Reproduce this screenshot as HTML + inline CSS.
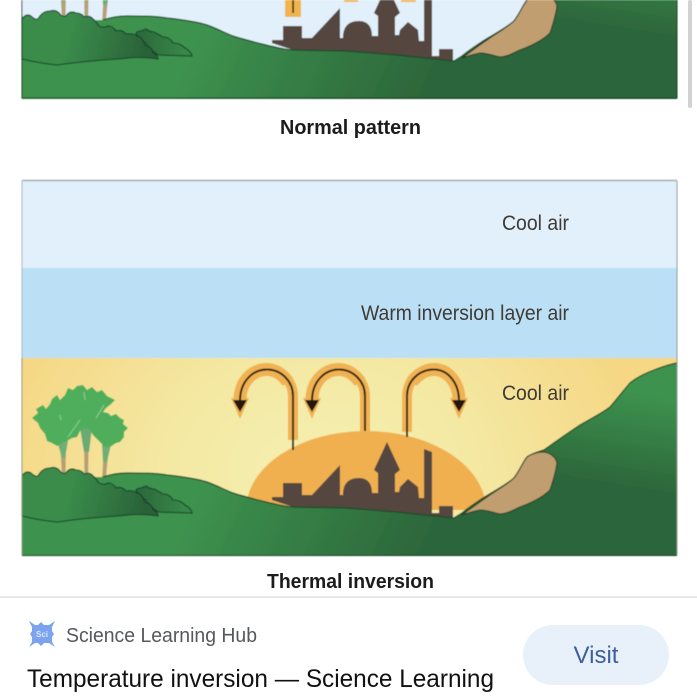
<!DOCTYPE html>
<html>
<head>
<meta charset="utf-8">
<style>
html,body{margin:0;padding:0;background:#fff;width:697px;height:698px;overflow:hidden}
svg{display:block;position:absolute;left:0;top:0}
</style>
</head>
<body>
<svg width="697" height="698" viewBox="0 0 697 698" xmlns="http://www.w3.org/2000/svg">
<defs>
  <filter id="b" x="-5%" y="-5%" width="110%" height="110%"><feGaussianBlur stdDeviation="0.55"/></filter>
  <filter id="bt" x="-5%" y="-5%" width="110%" height="110%"><feGaussianBlur stdDeviation="0.3"/></filter>
  <radialGradient id="sky" gradientUnits="userSpaceOnUse" cx="320" cy="470" r="330" gradientTransform="translate(320 470) scale(1 .75) translate(-320 -470)">
    <stop offset="0" stop-color="#f4efb0"/><stop offset=".45" stop-color="#f4e9a4"/><stop offset="1" stop-color="#f5d784"/>
  </radialGradient>
  <linearGradient id="g1" gradientUnits="userSpaceOnUse" x1="210" y1="470" x2="420" y2="570">
    <stop offset="0" stop-color="#3d924e"/><stop offset="1" stop-color="#2c653a"/>
  </linearGradient>
  <linearGradient id="g2" gradientUnits="userSpaceOnUse" x1="650" y1="395" x2="635" y2="490">
    <stop offset="0" stop-color="#3d924e"/><stop offset="1" stop-color="#3d924e" stop-opacity="0"/>
  </linearGradient>
  <linearGradient id="g3" gradientUnits="userSpaceOnUse" x1="70" y1="490" x2="145" y2="510">
    <stop offset="0" stop-color="#3a8c4b"/><stop offset="1" stop-color="#2a6238"/>
  </linearGradient>
  <linearGradient id="g4" gradientUnits="userSpaceOnUse" x1="140" y1="500" x2="190" y2="505">
    <stop offset="0" stop-color="#2c6a3b"/><stop offset="1" stop-color="#398a4a"/>
  </linearGradient>
  <g id="trees">
    <path d="M60 440H66L65.500 476H62Z" fill="#b59f74"/>
    <path d="M84 428H89L88 478H84.500Z" fill="#b59f74"/>
    <path d="M104 445H109L105.500 482H102Z" fill="#b59f74"/>
    <path d="M57 441H68L65 458H62Z" fill="#6fae78"/>
    <path d="M80 428H92L89 452H84Z" fill="#6aaa74"/>
    <path d="M102 444H111L107 462H103Z" fill="#6fae78"/>
    <path d="M32 418L38 413L36 409L43 405L46 409L50 404L52 399L57 395L60 400L65 395L68 388L73 390L77 386L83 385L87 390L92 387L97 392L102 390L107 396L115 400L110 405L106 408L103 412L108 413L111 416L116 414L120 418L124 420L123 424L128 428L124 432L124 437L120 442L116 443L110 447L105 447L102 444L98 440L93 435L90 430L85 428L80 431L77 437L72 438L67 441L62 443L57 446L52 443L47 441L45 434L40 428L38 423Z" fill="#4fae5c"/>
    <path d="M68 437L80 420M96 418L104 405M84 392L85 400M60 415L61 420" stroke="#8fcf94" stroke-width="1" fill="none"/>
  </g>
  <g id="hill">
    <path id="hp" d="M22 556V480L103 477C112 474 120 473 127 473C142 473 155 473 167 475C185 477 198 479 207 482C218 486 225 490 233 493C245 497 258 500 270 503C280 505 287 507 293 507L347 508L397 512L454 518L462 513C468 508 474 504 480 500C492 492 505 486 514 478C520 470 523 462 527 457C533 453 538 452 544 450C555 442 568 433 580 425C590 419 601 414 610 407C617 399 623 391 630 383C637 377 646 373 654 370C662 367 670 364 677 363V556Z" fill="url(#g1)"/>
    <path d="M22 556V480L103 477C112 474 120 473 127 473C142 473 155 473 167 475C185 477 198 479 207 482C218 486 225 490 233 493C245 497 258 500 270 503C280 505 287 507 293 507L347 508L397 512L454 518L462 513C468 508 474 504 480 500C492 492 505 486 514 478C520 470 523 462 527 457C533 453 538 452 544 450C555 442 568 433 580 425C590 419 601 414 610 407C617 399 623 391 630 383C637 377 646 373 654 370C662 367 670 364 677 363V556Z" fill="url(#g2)"/>
    <path d="M103 477C112 474 120 473 127 473C142 473 155 473 167 475C185 477 198 479 207 482C218 486 225 490 233 493C245 497 258 500 270 503C280 505 287 507 293 507L347 508L397 512L454 518L462 513C468 508 474 504 480 500C492 492 505 486 514 478C520 470 523 462 527 457C533 453 538 452 544 450C555 442 568 433 580 425C590 419 601 414 610 407C617 399 623 391 630 383C637 377 646 373 654 370C662 367 670 364 677 363" fill="none" stroke="#1d4a28" stroke-width="1.2"/>
    <path d="M462 515C468 513 474 511 480 510C488 510 494 513 500 514C507 514 513 510 520 507C531 503 542 498 550 490C553 481 556 472 557 463C556 457 550 453 544 452C538 452 533 453 527 457C523 462 520 470 514 478C505 486 495 491 487 497C478 503 470 509 462 515Z" fill="#c19e70" stroke="#23402a" stroke-width="1.1"/>
    <path d="M136 490Q137 488 141 488L146 486Q150 489 154 489Q158 491 163 494Q170 494 173 500Q180 500 185 505Q191 508 192 513L158 512Q147 504 146 500Q138 497 136 490Z" fill="url(#g4)" stroke="#17402a" stroke-width="1.1"/>
    <path d="M22 476Q26 470 31 473Q35 477 38 476Q42 468 50 468Q56 466 60 471Q62 474 66 473Q70 467 76 470Q82 470 84 474Q90 472 93 476Q96 478 98 482Q103 486 108 483Q113 483 116 488Q122 486 126 491Q134 490 137 493Q142 494 145 502Q152 504 153 510Q158 512 158 516Q140 513 118 516Q85 518 57 522Q38 520 22 516Z" fill="url(#g3)" stroke="#17402a" stroke-width="1.1"/>
  </g>
  <g id="city">
    <path d="M272 500V497H283V483H302V495H312L340 465V495H343C343 484 348 478 359 478C368 478 372 484 372 493H378V473L374 470L387 442L400 470L395 474V492H399L400 487L408 479L418 487L419 498H424V449L432 452V513H439V506H453V518L397 512L347 508L293 507Z" fill="#54463f"/>
  </g>
</defs>

<!-- top panel -->
<g filter="url(#b)">
  <svg x="0" y="0" width="697" height="99" viewBox="0 0 697 99">
    <rect x="22" y="-10" width="655" height="108" fill="#e2f0fb"/>
    <g transform="translate(0 -457)">
      <use href="#trees"/>
    </g>
    <rect x="285" y="0" width="16" height="17" fill="#f0b44f"/>
    <rect x="292.300" y="0" width="1.600" height="13" fill="#2b2012"/>
    <rect x="344" y="0" width="14" height="2" fill="#f0b44f"/>
    <rect x="401" y="0" width="15" height="2" fill="#f0b44f"/>
    <g transform="translate(0 -457)">
      <use href="#city"/>
      <use href="#hill"/>
    </g>
    <rect x="22" y="-2" width="655" height="100" fill="none" stroke="#1f3f28" stroke-width="1"/>
  </svg>
</g>
<rect x="688" y="0" width="4" height="108" rx="2" fill="#d2d2d2"/>

<!-- lower panel -->
<g filter="url(#b)">
  <rect x="22" y="181" width="655" height="87" fill="#e2f0fb"/>
  <rect x="22" y="268" width="655" height="90" fill="#bbe0f6"/>
  <rect x="22" y="358" width="655" height="197" fill="url(#sky)"/>
  <use href="#trees"/>
  <path d="M246 510A120 79 0 0 1 486 510Z" fill="#f0b050"/>
  <g fill="none" stroke="#f0b252" stroke-width="10">
    <path d="M293 440V396C293 381 281 369.500 267 369.500C253 369.500 240 381 240 400"/>
    <path d="M365 432V396C365 381 353 369.500 339 369.500C325 369.500 312 381 312 400"/>
    <path d="M407 432V396C407 381 419 369.500 434 369.500C448 369.500 459 383 459 400"/>
  </g>
  <g fill="none" stroke="#f0b252" stroke-width="13">
    <path d="M288 382C282 374 275 369.500 267 369.500C253 369.500 240 381 240 400"/>
    <path d="M360 382C354 374 347 369.500 339 369.500C325 369.500 312 381 312 400"/>
    <path d="M412 382C418 374 426 369.500 434 369.500C448 369.500 459 383 459 400"/>
  </g>
  <g fill="#f0b252">
    <path d="M231 398H249L240 419Z"/><path d="M303 398H321L312 419Z"/><path d="M450 398H468L459 419Z"/>
  </g>
  <g fill="none" stroke="#20180e" stroke-width="2">
    <path d="M293 450V396C293 381 281 369.500 267 369.500C253 369.500 240 381 240 401"/>
    <path d="M365 431V396C365 381 353 369.500 339 369.500C325 369.500 312 381 312 401"/>
    <path d="M407 437V396C407 381 419 369.500 434 369.500C448 369.500 459 383 459 401"/>
  </g>
  <g fill="#20180e">
    <path d="M233 400H247L240 412Z"/><path d="M305 400H319L312 412Z"/><path d="M452 400H466L459 412Z"/>
  </g>
  <use href="#city"/>
  <use href="#hill"/>
  <path d="M22 555.500H677" stroke="#1f3f28" stroke-width="1"/>
  <path d="M22 180.500H677" stroke="#a3adb2" stroke-width="1.500"/>
  <path d="M22 181V358" stroke="#aab4ba" stroke-width="1"/>
  <path d="M22 358V555" stroke="#8f9a7a" stroke-width="1"/>
  <path d="M677 181V555" stroke="#8a9a90" stroke-width="1"/>
</g>

<g font-family="'Liberation Sans',sans-serif" filter="url(#bt)">
  <text x="502" y="230" font-size="21" fill="#3f3a36" textLength="67" lengthAdjust="spacingAndGlyphs">Cool air</text>
  <text x="361" y="320" font-size="21" fill="#3f3a36" textLength="208" lengthAdjust="spacingAndGlyphs">Warm inversion layer air</text>
  <text x="502" y="400" font-size="21" fill="#3f3a36" textLength="67" lengthAdjust="spacingAndGlyphs">Cool air</text>
  <text x="280" y="134" font-size="20" font-weight="bold" fill="#1c1c1c" textLength="141" lengthAdjust="spacingAndGlyphs">Normal pattern</text>
  <text x="267" y="588" font-size="20" font-weight="bold" fill="#1c1c1c" textLength="167" lengthAdjust="spacingAndGlyphs">Thermal inversion</text>
</g>

<!-- footer card -->
<rect x="0" y="597" width="697" height="101" fill="#fff"/>
<rect x="0" y="596.500" width="697" height="1.200" fill="#d9d9d9"/>
<g filter="url(#bt)">
  <path d="M29 621L35 625H38L41 622L44 625H49L55 621L52 627V631L54 634L52 637V642L55 647L49 643H44L41 646L38 643H35L29 647L32 642V637L30 634L32 631V627Z" fill="#7ba3ee"/>
  <text x="42" y="637" font-size="8" font-weight="bold" fill="#dbe7fb" text-anchor="middle" font-family="'Liberation Sans',sans-serif">Sci</text>
</g>
<g font-family="'Liberation Sans',sans-serif">
  <text x="66" y="642" font-size="20" fill="#55585c" textLength="191" lengthAdjust="spacingAndGlyphs">Science Learning Hub</text>
  <text x="27" y="687" font-size="25" fill="#111" textLength="467" lengthAdjust="spacingAndGlyphs">Temperature inversion — Science Learning</text>
  <rect x="523" y="625" width="146" height="60" rx="30" fill="#e8f0fa"/>
  <text x="596" y="663" font-size="24" fill="#3d5f9e" text-anchor="middle">Visit</text>
</g>
</svg>
</body>
</html>
